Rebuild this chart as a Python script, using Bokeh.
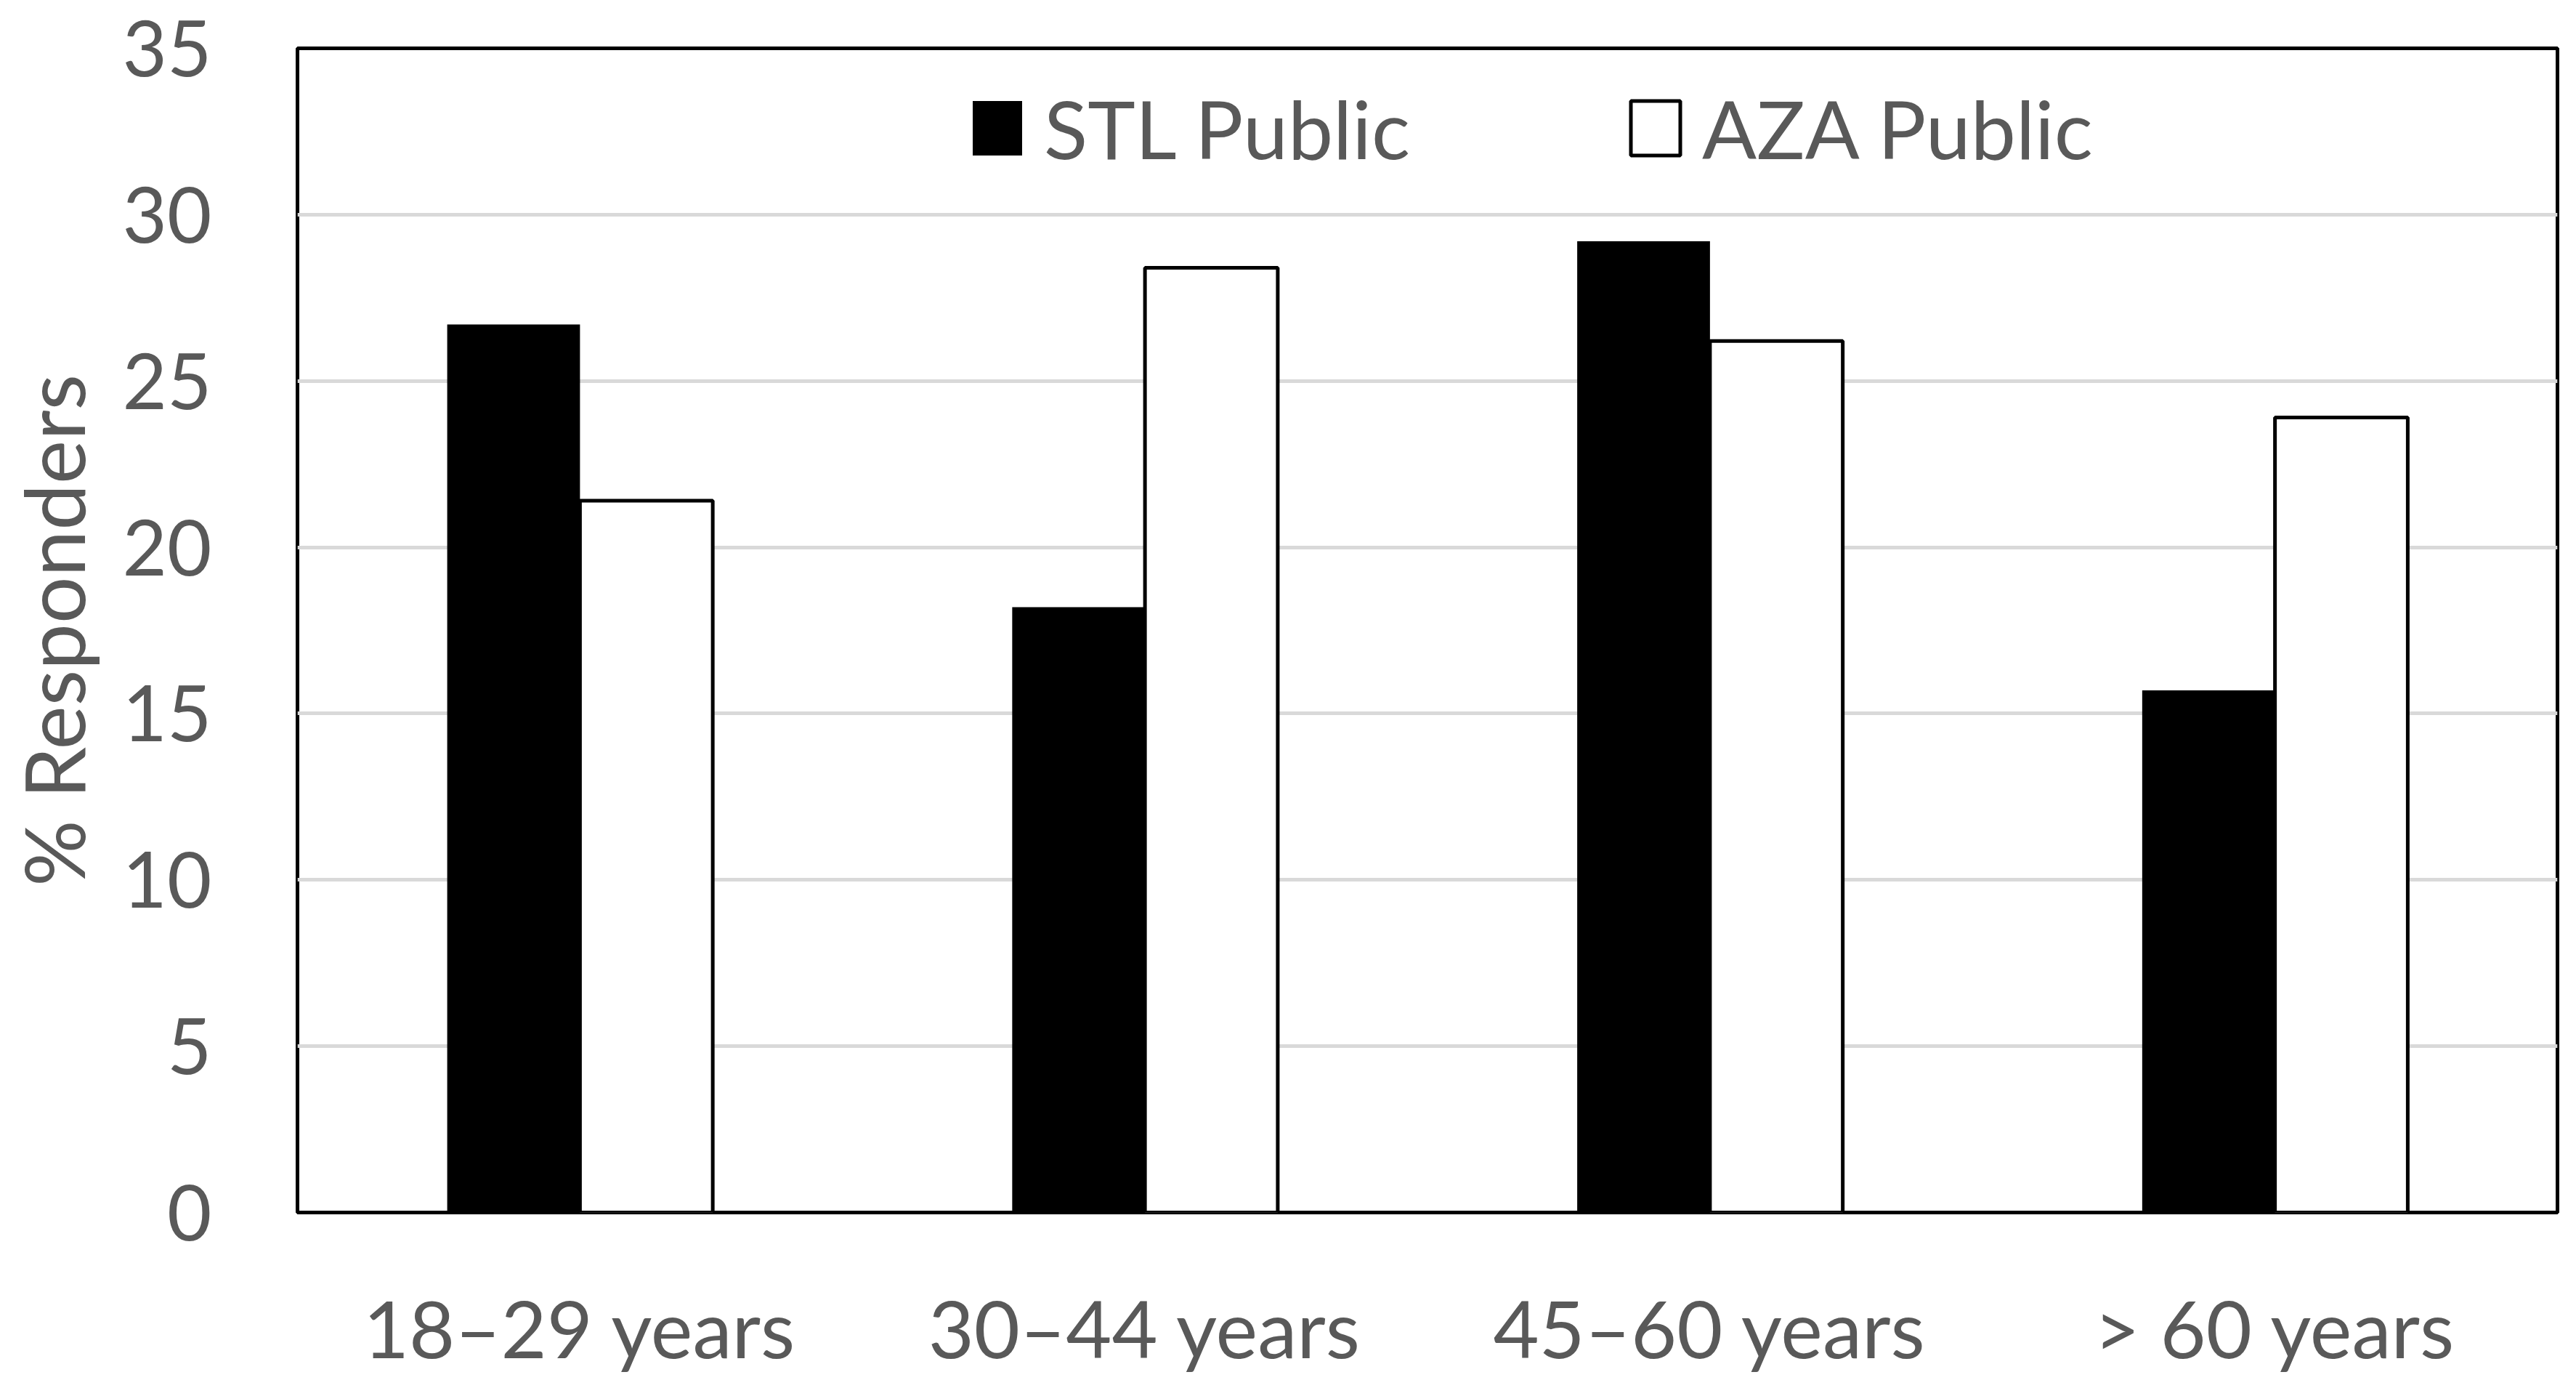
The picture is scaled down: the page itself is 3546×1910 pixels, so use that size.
from bokeh.plotting import figure
from bokeh.models import FactorRange, Range1d
from bokeh.transform import dodge
from bokeh.embed import file_html
from bokeh.resources import INLINE

categories = ["18\u201329 years", "30\u201344 years", "45\u201360 years", "> 60 years"]
stl_public = [26.7, 18.2, 29.2, 15.7]
aza_public = [21.4, 28.4, 26.2, 23.9]
y_ticks = [0, 5, 10, 15, 20, 25, 30, 35]
y_title = "% Responders"

FONT = "Lato"
TXT = "#595959"

p = figure(
    x_range=FactorRange(*categories),
    y_range=Range1d(0, 35),
    width=3530, height=1894,
    output_backend="svg", toolbar_location=None,
    min_border_left=409, min_border_right=10, min_border_top=66, min_border_bottom=225,
)

data = dict(cat=categories, stl=stl_public, aza=aza_public)
bw = 0.235
p.vbar(x=dodge("cat", -bw / 2, range=p.x_range), top="stl", width=bw, source=data,
       fill_color="black", line_color=None, legend_label="STL Public")
p.vbar(x=dodge("cat", bw / 2, range=p.x_range), top="aza", width=bw, source=data,
       fill_color="white", line_color="black", line_width=5, legend_label="AZA Public")

p.outline_line_color = "black"
p.outline_line_width = 5
p.background_fill_color = "white"
p.border_fill_color = "white"

p.xgrid.grid_line_color = None
p.ygrid.grid_line_color = "#d9d9d9"
p.ygrid.grid_line_width = 5

p.yaxis.ticker = y_ticks
p.yaxis.axis_line_color = None
p.xaxis.axis_line_color = None
for ax in (p.xaxis, p.yaxis):
    ax.major_tick_line_color = None
    ax.minor_tick_line_color = None
    ax.major_label_text_font = FONT
    ax.major_label_text_color = TXT
p.yaxis.major_label_text_font_size = "106px"
p.xaxis.major_label_text_font_size = "109px"
p.yaxis.major_label_standoff = 112
p.xaxis.major_label_standoff = 86

p.yaxis.axis_label = y_title
p.yaxis.axis_label_text_font = FONT
p.yaxis.axis_label_text_font_style = "normal"
p.yaxis.axis_label_text_color = TXT
p.yaxis.axis_label_text_font_size = "114px"
p.yaxis.axis_label_text_line_height = 1.0
p.yaxis.axis_label_standoff = 25

lg = p.legend[0]
lg.orientation = "horizontal"
lg.location = (921, 1425)
lg.background_fill_alpha = 0
lg.border_line_color = None
lg.padding = 0
lg.margin = 0
lg.spacing = 295
lg.glyph_width = 85
lg.glyph_height = 94
lg.label_standoff = 22
lg.label_text_font = FONT
lg.label_text_color = TXT
lg.label_text_font_size = "111px"

open("out.html", "w").write(file_html(p, INLINE))
